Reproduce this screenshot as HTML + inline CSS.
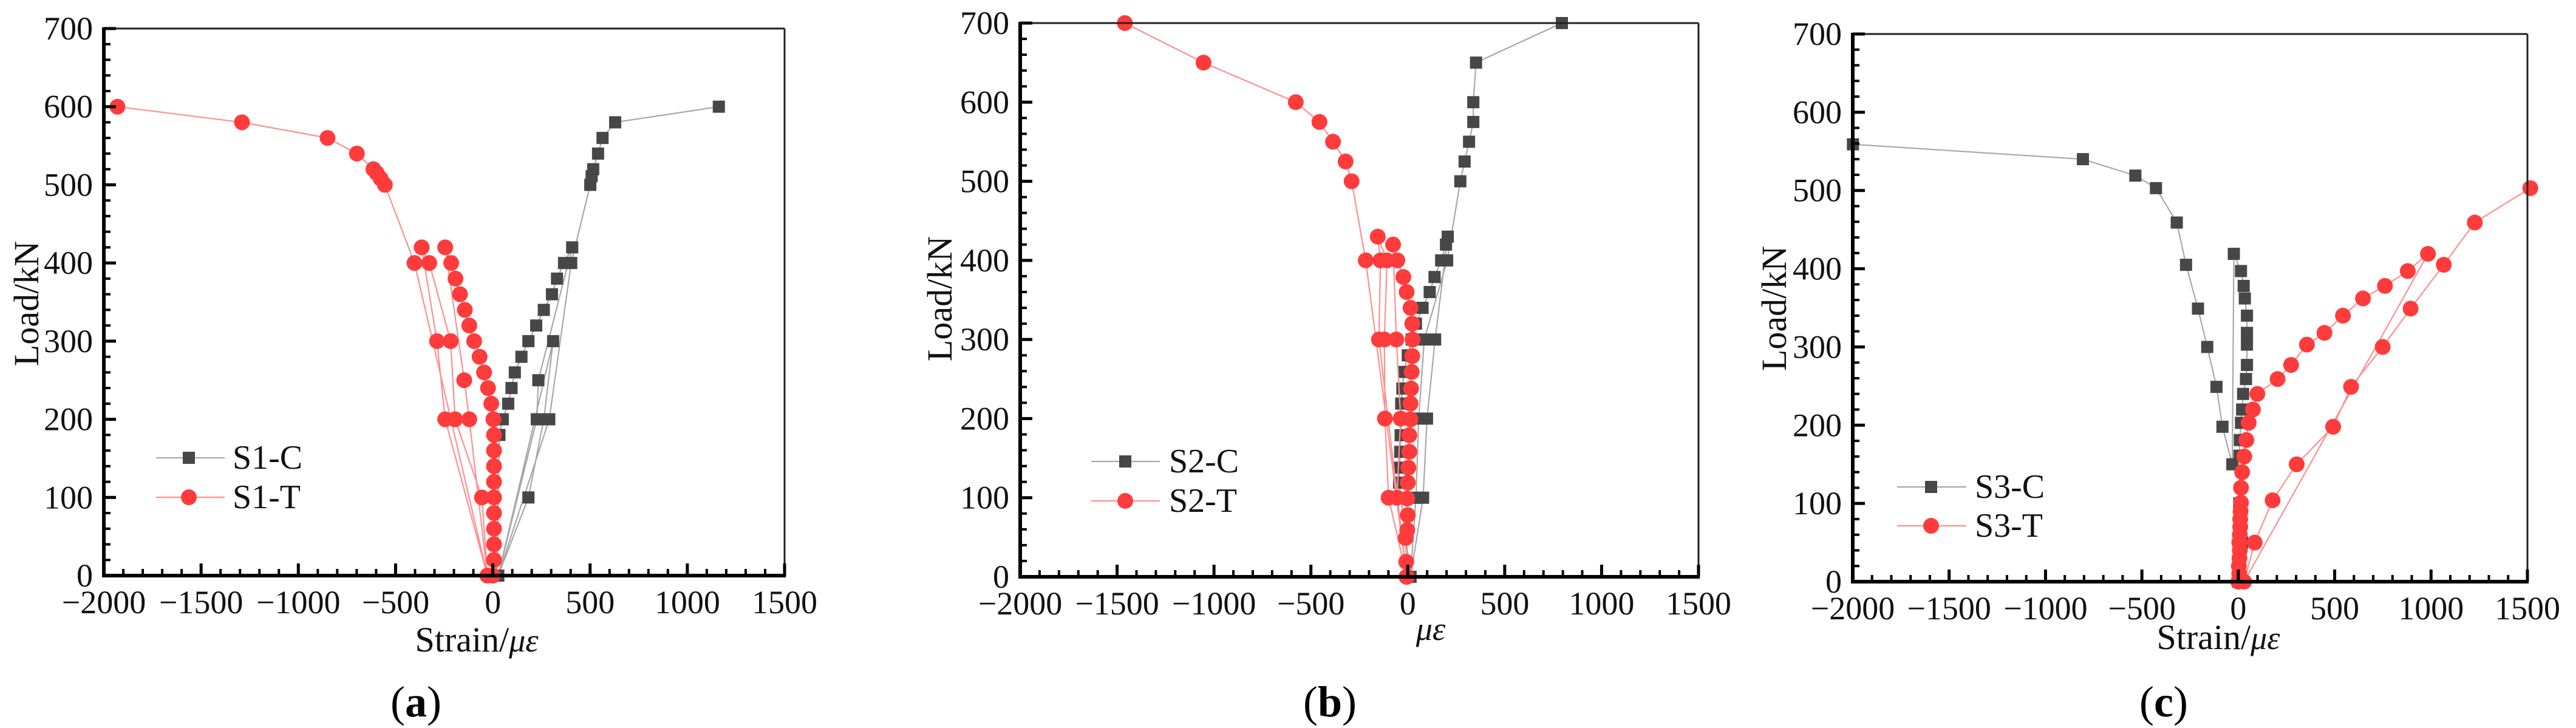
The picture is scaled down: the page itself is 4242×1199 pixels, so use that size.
<!DOCTYPE html>
<html><head><meta charset="utf-8"><style>
html,body{margin:0;padding:0;background:#fff;}
svg{display:block;font-family:"Liberation Serif","Times New Roman",serif;}
text{font-family:"Liberation Serif","Times New Roman",serif;}
</style></head><body>
<svg id="chart" width="4242" height="1199" viewBox="0 0 4242 1199" xmlns="http://www.w3.org/2000/svg"></svg>
<script>
// ---- data ----
const xTickValues = [-2000,-1500,-1000,-500,0,500,1000,1500];
const yTickValues = [0,100,200,300,400,500,600,700];
const xTickLabels = ["\u22122000","\u22121500","\u22121000","\u2212500","0","500","1000","1500"];
const yTickLabels = ["0","100","200","300","400","500","600","700"];

const s1cStrain = [20,34,51,79,96,113,147,183,223,262,304,330,366,408,234,226,28,183,262,310,28,290,403,501,508,516,541,564,629,1162];
const s1cLoad   = [0,180,200,220,240,260,280,300,320,340,360,380,400,420,250,200,0,100,200,300,0,200,400,500,511,520,540,560,580,600];
const s1tStrain = [0,6,6,6,6,6,6,6,6,6,3,-8,-25,-45,-68,-96,-121,-144,-169,-192,-214,-245,-147,-121,-28,-56,-194,-217,-327,-366,-287,-245,-28,-403,-555,-577,-597,-614,-699,-850,-1290,-1930];
const s1tLoad   = [0,20,40,60,80,100,120,140,160,180,200,220,240,260,280,300,320,340,360,380,400,420,250,200,0,100,200,300,400,420,300,200,0,400,500,508,515,520,540,560,580,600];

const s2cStrain = [14,-45,-42,-39,-37,-35,-34,-28,-20,0,20,42,76,113,138,172,197,206,141,99,79,14,42,56,85,203,271,293,316,338,338,352,795];
const s2cLoad   = [0,119,138,158,179,200,219,238,259,280,300,320,340,360,379,400,420,430,300,200,100,0,100,200,300,400,500,525,550,575,600,650,700];
const s2tStrain = [-6,-8,-11,-3,0,-3,0,3,8,8,14,14,17,20,23,25,23,14,-6,-23,-54,-76,-59,-37,-56,-6,-99,-118,-121,-107,-155,-141,-149,-6,-217,-290,-321,-386,-456,-578,-1054,-1460];
const s2tLoad   = [0,19,49,59,78,99,119,138,158,179,199,219,238,259,279,300,320,340,360,379,400,420,300,200,100,0,100,200,300,400,430,400,300,0,400,500,525,550,575,600,650,700];

const s3cStrain = [0,20,5,6,8,14,20,25,40,45,45,45,45,34,28,14,-23,-31,-82,-113,-161,-209,-271,-319,-427,-534,-806,-1999];
const s3cLoad   = [0,50,100,161,181,203,220,240,259,277,303,318,340,362,378,397,419,150,198,249,300,349,405,459,503,519,540,559];
const s3tStrain = [0,5,3,6,8,5,8,10,10,12,14,14,20,31,42,54,76,99,204,274,356,447,543,647,761,879,984,30,85,178,303,492,585,749,894,1066,1227,1515];
const s3tLoad   = [0,10,20,30,40,50,60,70,80,90,101,120,140,160,181,203,220,240,259,277,303,318,340,362,378,397,419,0,50,104,150,198,249,300,349,405,459,503];

// ---- layout ----
const NS = "http://www.w3.org/2000/svg";
const FONT = '"Liberation Serif", "Times New Roman", serif';
const svg = document.getElementById('chart');
function mk(tag, attrs, parent){
  const e = document.createElementNS(NS, tag);
  for (const k in attrs) e.setAttribute(k, attrs[k]);
  if (tag === 'text') e.setAttribute('font-family', FONT);
  (parent||svg).appendChild(e);
  return e;
}
const panels = [
  {id:'a', x0:171, x1:1292, yT:47, yB:948, xt:'Strain/', xtX:785, xtY:1073, ytX:45, ytY:500, capX:685,
   c:[s1cStrain,s1cLoad], t:[s1tStrain,s1tLoad], lc:'S1-C', lt:'S1-T', lgX0:257, lgX1:370, lgM:311, lgY:[754,819], lgT:383},
  {id:'b', x0:1680, x1:2797, yT:38, yB:950, xt:'', xtX:2356, xtY:1054, ytX:1549, ytY:492, capX:2190,
   c:[s2cStrain,s2cLoad], t:[s2tStrain,s2tLoad], lc:'S2-C', lt:'S2-T', lgX0:1797, lgX1:1910, lgM:1853, lgY:[760,825], lgT:1925},
  {id:'c', x0:3051, x1:4162, yT:56, yB:958, xt:'Strain/', xtX:3653, xtY:1069, ytX:2923, ytY:508, capX:3563,
   c:[s3cStrain,s3cLoad], t:[s3tStrain,s3tLoad], lc:'S3-C', lt:'S3-T', lgX0:3124, lgX1:3238, lgM:3180, lgY:[802,866], lgT:3252}
];
const GRAYL='#a8a8a8', GRAYM='#474747', REDL='#ff8f8f', REDM='#ff3b3b';

panels.forEach(p=>{
  const sx = v => p.x0 + (v+2000)/3500*(p.x1-p.x0);
  const sy = v => p.yB - v/700*(p.yB-p.yT);
  const g = mk('g',{});
  
  

  function series(data, lineCol, markCol, shape, name){
    const sg = mk('g',{}, g);
    
    
    const pts = data[0].map((v,i)=>sx(v).toFixed(1)+','+sy(data[1][i]).toFixed(1)).join(' ');
    const pl = mk('polyline',{points:pts, fill:'none', stroke:lineCol, 'stroke-width':2.2}, sg);
    
    
    data[0].forEach((v,i)=>{
      const x=sx(v), y=sy(data[1][i]);
      let m;
      if(shape==='sq') m = mk('rect',{x:x-10,y:y-10,width:20,height:20,fill:markCol}, sg);
      else m = mk('circle',{cx:x,cy:y,r:13,fill:markCol}, sg);
      
      
    });
  }
  series(p.c, GRAYL, GRAYM, 'sq', 'series-'+p.lc.toLowerCase());
  series(p.t, REDL, REDM, 'ci', 'series-'+p.lt.toLowerCase());

  const ax = mk('g',{}, g);
  
  
  mk('line',{x1:p.x0,y1:p.yT,x2:p.x1,y2:p.yT,stroke:'#222','stroke-width':3},ax);
  mk('line',{x1:p.x1,y1:p.yT,x2:p.x1,y2:p.yB,stroke:'#222','stroke-width':3},ax);
  mk('line',{x1:p.x0,y1:p.yT-2,x2:p.x0,y2:p.yB+3,stroke:'#000','stroke-width':6},ax);
  mk('line',{x1:p.x0-3,y1:p.yB,x2:p.x1+2,y2:p.yB,stroke:'#000','stroke-width':6},ax);

  for(let v=0; v<=700; v+=20){
    const major = v%100===0;
    mk('line',{x1:p.x0,y1:sy(v),x2:p.x0+(major?20:11),y2:sy(v),stroke:'#000','stroke-width':major?5:4},ax);
  }
  for(let v=-2000; v<=1500; v+=100){
    const major = v%500===0;
    mk('line',{x1:sx(v),y1:p.yB,x2:sx(v),y2:p.yB-(major?20:11),stroke:'#000','stroke-width':major?5:4},ax);
  }
  yTickValues.forEach((v,i)=>{
    const t = mk('text',{x:p.x0-18,y:sy(v)+18,'font-size':54,'text-anchor':'end',fill:'#111'},g);
    t.textContent = yTickLabels[i];
    
    
  });
  xTickValues.forEach((v,i)=>{
    const t = mk('text',{x:sx(v),y:p.yB+62,'font-size':54,'text-anchor':'middle',fill:'#111'},g);
    t.textContent = xTickLabels[i];
    
    
  });

  const yt = mk('text',{x:p.ytX+18,y:p.ytY,'font-size':58,'text-anchor':'middle',fill:'#111',transform:`rotate(-90 ${p.ytX+18} ${p.ytY})`},g);
  yt.textContent='Load/kN';
  
  
  const xt = mk('text',{x:p.xtX,y:p.xtY,'font-size':58,'text-anchor':'middle',fill:'#111'},g);
  
  
  xt.appendChild(document.createTextNode(p.xt));
  const it = mk('tspan',{'font-style':'italic','font-size':54},xt);
  it.textContent='\u03bc\u03b5';

  const cap = mk('text',{x:p.capX,y:1180,'font-size':72,'text-anchor':'middle',fill:'#000'},g);
  
  
  cap.appendChild(document.createTextNode('('));
  const b = mk('tspan',{'font-weight':'bold'},cap); b.textContent=p.id;
  cap.appendChild(document.createTextNode(')'));

  const lg = mk('g',{},g);
  
  
  [[p.lc,GRAYL,GRAYM,'sq'],[p.lt,REDL,REDM,'ci']].forEach((e,i)=>{
    const y = p.lgY[i];
    const eg = mk('g',{},lg);
    
    
    mk('line',{x1:p.lgX0,y1:y,x2:p.lgX1,y2:y,stroke:e[1],'stroke-width':2.2},eg);
    if(e[3]==='sq') mk('rect',{x:p.lgM-10,y:y-10,width:20,height:20,fill:e[2]},eg);
    else mk('circle',{cx:p.lgM,cy:y,r:13,fill:e[2]},eg);
    const t = mk('text',{x:p.lgT,y:y+18,'font-size':56,fill:'#111'},eg);
    t.textContent = e[0];
  });
});
</script>
</body></html>
